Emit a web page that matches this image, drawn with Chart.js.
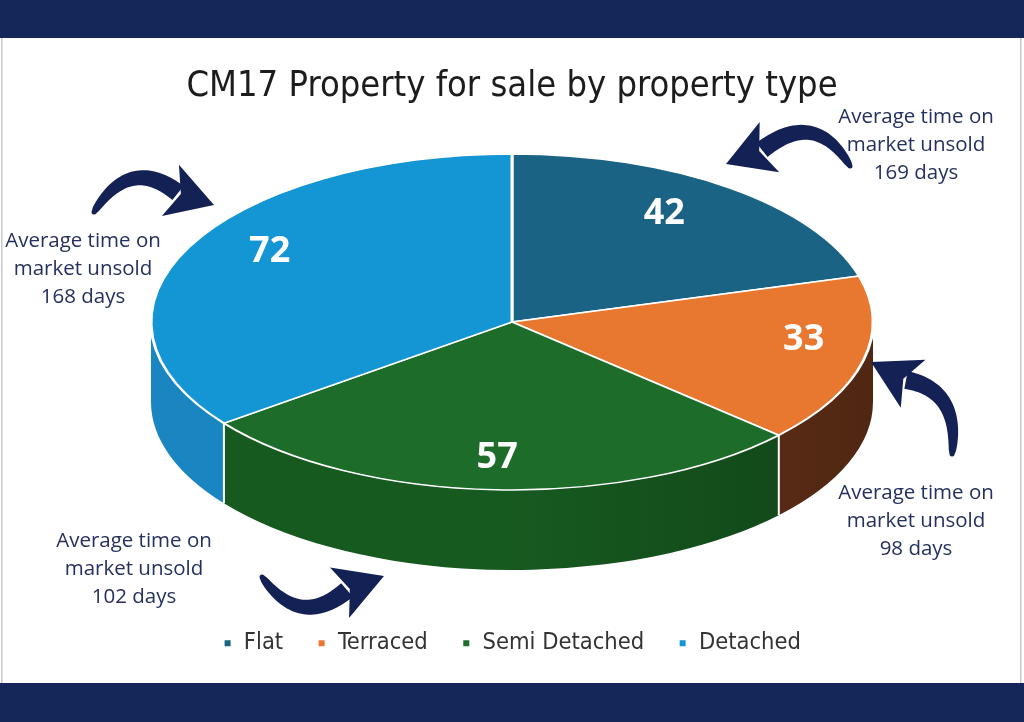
<!DOCTYPE html>
<html><head><meta charset="utf-8">
<script src="https://cdn.jsdelivr.net/npm/chart.js@4.4.1/dist/chart.umd.min.js"></script>
<style>html,body{margin:0;padding:0;background:#fff;overflow:hidden}#wrap{width:1024px;height:722px;position:relative}</style>
</head><body><div id="wrap"><canvas id="c" width="1024" height="722"></canvas></div>
<script>
// ---------- data ----------
const categories = ['Flat', 'Terraced', 'Semi Detached', 'Detached'];
const propertyCounts = [42, 33, 57, 72];
const avgDaysUnsold = [169, 98, 102, 168];
const titleText = 'CM17 Property for sale by property type';

// ---------- styles ----------
const topColors = ['#1b6384', '#e8772f', '#1e6c29', '#1596d4'];
const sideColors = ['#134a63', '#6b3419', '#175a20', '#1a86c1'];
const navy = '#152659';
const calloutColor = '#24305e';
const narrowFont = '"Liberation Sans Narrow", "DejaVu Sans Condensed", Arial, sans-serif';

// ---------- layout ----------
const GEO = { cy: 322, ry: 168, depth: 80, labelDy: -14 };
const labelRadius = [0.70, 0.83, 0.89, 0.75];
const calloutPos = [ {x: 916, y: 117}, {x: 916, y: 493}, {x: 134, y: 541}, {x: 83, y: 241} ];
const arrows = [
  { T: [850,166], C: [815,108], B: [762,150], P: [726,164] },
  { T: [952,454], C: [960,390], B: [906,380], P: [871,362] },
  { T: [262,577], C: [300,630], B: [347,590], P: [384,576] },
  { T: [94,212],  C: [130,155], B: [178,193], P: [214,205] }
];

function drawArrow(ctx, a) {
  const N = 40, left = [], right = [];
  const [tx,ty] = a.T, [cx,cy] = a.C, [bx,by] = a.B;
  for (let i = 0; i <= N; i++) {
    const t = i / N, u = 1 - t;
    const x = u*u*tx + 2*u*t*cx + t*t*bx, y = u*u*ty + 2*u*t*cy + t*t*by;
    let dx = 2*u*(cx-tx) + 2*t*(bx-cx), dy = 2*u*(cy-ty) + 2*t*(by-cy);
    const l = Math.hypot(dx,dy); dx/=l; dy/=l;
    const w = (5 + 13*Math.sqrt(t)) / 2;
    left.push([x - dy*w, y + dx*w]); right.push([x + dy*w, y - dx*w]);
  }
  ctx.beginPath();
  ctx.moveTo(left[0][0], left[0][1]);
  left.forEach(p => ctx.lineTo(p[0], p[1]));
  right.reverse().forEach(p => ctx.lineTo(p[0], p[1]));
  ctx.closePath(); ctx.fill();
  ctx.beginPath(); ctx.arc(tx, ty, 2.5, 0, Math.PI*2); ctx.fill();
  // head
  let dx = a.P[0]-bx, dy = a.P[1]-by; const l = Math.hypot(dx,dy); dx/=l; dy/=l;
  const hw = 27;
  ctx.beginPath();
  ctx.moveTo(a.P[0], a.P[1]);
  ctx.lineTo(bx - dy*hw - dx*8, by + dx*hw - dy*8);
  ctx.lineTo(bx + dx*3, by + dy*3);
  ctx.lineTo(bx + dy*hw - dx*8, by - dx*hw - dy*8);
  ctx.closePath(); ctx.fill();
}

const framePlugin = {
  id: 'frame',
  beforeDraw(chart) {
    const ctx = chart.ctx;
    ctx.save();
    ctx.fillStyle = '#fff'; ctx.fillRect(0, 0, chart.width, chart.height);
    ctx.fillStyle = navy;
    ctx.fillRect(0, 0, chart.width, 38);
    ctx.fillRect(0, 683, chart.width, chart.height - 683);
    ctx.fillStyle = '#c9c9c9';
    ctx.fillRect(1, 38, 1.5, 645); ctx.fillRect(1020, 38, 1.5, 645);
    ctx.restore();
  },
  afterDraw(chart) {
    const ctx = chart.ctx;
    ctx.save();
    ctx.fillStyle = calloutColor;
    ctx.font = '20.5px "Open Sans", sans-serif';
    ctx.textAlign = 'center'; ctx.textBaseline = 'middle';
    avgDaysUnsold.forEach((d, i) => {
      const p = calloutPos[i];
      ['Average time on', 'market unsold', d + ' days'].forEach((s, j) => ctx.fillText(s, p.x, p.y + j * 28));
    });
    ctx.fillStyle = '#142154';
    arrows.forEach(a => drawArrow(ctx, a));
    ctx.restore();
  }
};

function shade(hex, f) {
  const n = parseInt(hex.slice(1), 16);
  const c = [(n>>16)&255, (n>>8)&255, n&255].map(v => Math.round(f < 0 ? v*(1+f) : v + (255-v)*f));
  return 'rgb(' + c.join(',') + ')';
}

const pie3d = {
  id: 'pie3d',
  beforeDatasetsDraw(chart) {
    const ctx = chart.ctx, meta = chart.getDatasetMeta(0);
    const a0 = meta.data[0];
    const cx = a0.x, r = a0.outerRadius, k = GEO.ry / r;
    ctx.save();
    meta.data.forEach((a, i) => {
      const s = Math.max(a.startAngle, 0), e = Math.min(a.endAngle, Math.PI);
      if (s < e) {
        ctx.beginPath();
        ctx.ellipse(cx, GEO.cy, r, r*k, 0, s, e);
        ctx.ellipse(cx, GEO.cy + GEO.depth, r, r*k, 0, e, s, true);
        ctx.closePath();
        const g = ctx.createLinearGradient(cx - r, 0, cx + r, 0);
        g.addColorStop(0, sideColors[i]);
        g.addColorStop(0.5, sideColors[i]);
        g.addColorStop(1, shade(sideColors[i], -0.25));
        ctx.fillStyle = g; ctx.fill();
      }
    });
    ctx.strokeStyle = '#fff'; ctx.lineWidth = 2;
    meta.data.forEach(a => {
      const ang = a.endAngle;
      if (ang > 0 && ang < Math.PI) {
        const x = cx + r*Math.cos(ang), y = GEO.cy + r*k*Math.sin(ang);
        ctx.beginPath(); ctx.moveTo(x, y); ctx.lineTo(x, y + GEO.depth); ctx.stroke();
      }
    });
    ctx.restore();
    ctx.save();
    ctx.translate(0, GEO.cy); ctx.scale(1, k); ctx.translate(0, -a0.y);
  },
  afterDatasetsDraw(chart) {
    const ctx = chart.ctx;
    ctx.restore();
    const meta = chart.getDatasetMeta(0), a0 = meta.data[0];
    const cx = a0.x, r = a0.outerRadius, k = GEO.ry / r;
    ctx.save();
    ctx.fillStyle = '#fff';
    ctx.font = 'bold 36px "Open Sans", sans-serif';
    ctx.textAlign = 'center'; ctx.textBaseline = 'middle';
    meta.data.forEach((a, i) => {
      const m = (a.startAngle + a.endAngle) / 2, f = labelRadius[i];
      ctx.fillText(String(propertyCounts[i]), cx + f*r*Math.cos(m), GEO.cy + f*r*k*Math.sin(m) + GEO.labelDy);
    });
    ctx.restore();
  }
};

new Chart(document.getElementById('c'), {
  type: 'pie',
  data: {
    labels: categories,
    datasets: [{
      data: propertyCounts,
      backgroundColor: topColors,
      borderColor: '#ffffff',
      borderWidth: 3,
      radius: 361,
      clip: false,
      hoverOffset: 0
    }]
  },
  options: {
    responsive: false,
    animation: false,
    layout: { padding: { top: 65, bottom: 57, left: 0, right: 0 } },
    plugins: {
      title: {
        display: true, text: titleText, color: '#1c1c1c',
        font: { family: narrowFont, size: 36, weight: 'normal' },
        padding: { top: 0, bottom: 0 }
      },
      legend: {
        position: 'bottom',
        labels: {
          boxWidth: 9, boxHeight: 9, padding: 34, color: '#333',
          font: { family: narrowFont, size: 23.5 }
        }
      },
      tooltip: { enabled: false }
    }
  },
  plugins: [framePlugin, pie3d]
});
</script></body></html>
